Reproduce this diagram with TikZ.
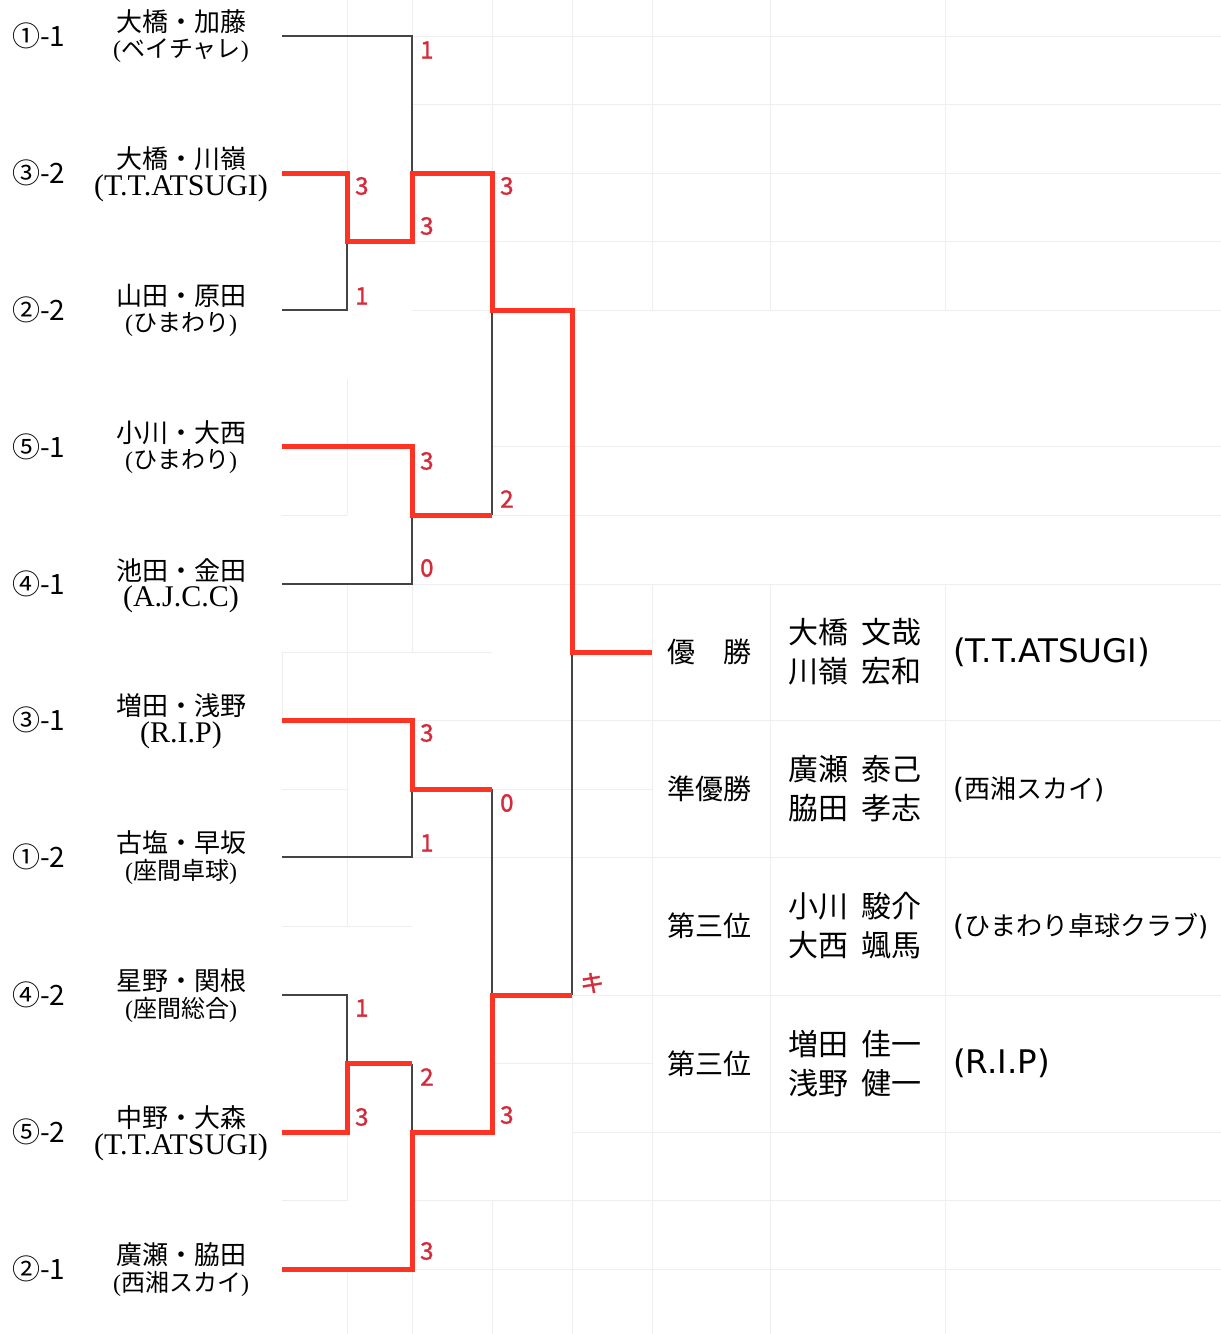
\documentclass[tikz,border=0pt]{standalone}
\usepackage{fontspec}
\setmainfont{Noto Sans CJK JP}
\newfontfamily\lserif{Liberation Serif}
\newfontfamily\dvsans{DejaVu Sans}
\newfontfamily\scorefont{Noto Sans CJK JP}[FakeBold=1.5]
\usepackage{tikz}
\usetikzlibrary{positioning}
\definecolor{Win_Red}{HTML}{FF3324}
\definecolor{Score_Red}{HTML}{D42A3A}
\definecolor{Lose_Gray}{HTML}{444444}
\definecolor{Grid_Gray}{HTML}{EEEEEE}
\newcommand{\lteam}[1]{{\lserif(}#1{\lserif)}}
\newcommand{\lteamL}[1]{{\lserif\fontsize{30}{30}\selectfont(#1)}}
\newcommand{\rteam}[1]{{\dvsans(}#1{\dvsans)}}
\newcommand{\rteamL}[1]{{\dvsans\fontsize{32.5}{32.5}\selectfont(#1)}}
\newcommand{\cjksmall}{\fontsize{26}{26}\selectfont}
\newcommand{\gap}{\hspace{0.45em}}

\begin{document}
\begin{tikzpicture}[x=1pt, y=-1pt, line join=miter,
    lose/.style={draw=Lose_Gray, line width=1.6pt},
    win/.style={draw=Win_Red, line width=5pt},
    grid line/.style={draw=Grid_Gray, line width=1pt},
    score/.style={text=Score_Red, anchor=west, inner sep=0pt, font=\scorefont\fontsize{24}{24}\selectfont},
    seed/.style={anchor=west, inner sep=0pt, font=\fontsize{28}{28}\selectfont},
    pname/.style={inner sep=0pt, font=\fontsize{26}{26}\selectfont},
    pteam/.style={inner sep=0pt, font=\fontsize{24}{24}\selectfont},
    rank/.style={anchor=west, inner sep=0pt, font=\fontsize{28}{28}\selectfont},
    member/.style={anchor=west, inner sep=0pt, align=left, font=\fontsize{30}{39}\selectfont},
    club/.style={anchor=west, inner sep=0pt, font=\fontsize{28}{28}\selectfont}]
    \useasboundingbox (0,0) rectangle (1221,1334);

    % Sheet grid
    \foreach \y in {36, 104.5, 173, 241.5, 310}
        \draw[grid line] (412,\y) -- (1221,\y);
    \foreach \y in {446.5, 515}
        \draw[grid line] (492,\y) -- (1221,\y);
    \foreach \y in {584, 720, 857}
        \draw[grid line] (412,\y) -- (1221,\y);
    \foreach \y in {995, 1132}
        \draw[grid line] (572,\y) -- (1221,\y);
    \draw[grid line] (412,1200.5) -- (1221,1200.5);
    \draw[grid line] (412,1269) -- (1221,1269);
    \draw[grid line] (282,1200.5) -- (347,1200.5);
    \draw[grid line] (492,1063.5) -- (652,1063.5);
    \draw[grid line] (282,515) -- (347,515);
    \draw[grid line] (282,652) -- (492,652);
    \draw[grid line] (282,789) -- (347,789);
    \draw[grid line] (492,789) -- (652,789);
    \draw[grid line] (282,926) -- (412,926);
    \foreach \x in {492, 572, 652, 770, 945}
        \draw[grid line] (\x,0) -- (\x,310);
    \foreach \x in {652, 770, 945}
        \draw[grid line] (\x,584) -- (\x,1334);
    \draw[grid line] (347,0) -- (347,173);
    \draw[grid line] (412,0) -- (412,36);
    \draw[grid line] (347,378.5) -- (347,515);
    \draw[grid line] (347,584) -- (347,926);
    \draw[grid line] (412,584) -- (412,652);
    \draw[grid line] (282,652) -- (282,720);
    \draw[grid line] (347,1063.5) -- (347,1200.5);
    \foreach \x in {347, 412}
        \draw[grid line] (\x,1269) -- (\x,1334);
    \draw[grid line] (492,1200.5) -- (492,1334);
    \draw[grid line] (572,995) -- (572,1334);

    % Entries
    \foreach \i/\y/\sd/\nm/\tm in {
        1/36/①-1/大橋・加藤/\lteam{ベイチャレ},
        2/173/③-2/大橋・川嶺/\lteamL{T.T.ATSUGI},
        3/310/②-2/山田・原田/\lteam{ひまわり},
        4/446.5/⑤-1/小川・大西/\lteam{ひまわり},
        5/584/④-1/池田・金田/\lteamL{A.J.C.C},
        6/720/③-1/増田・浅野/\lteamL{R.I.P},
        7/857/①-2/古塩・早坂/\lteam{座間卓球},
        8/995/④-2/星野・関根/\lteam{座間総合},
        9/1132/⑤-2/中野・大森/\lteamL{T.T.ATSUGI},
        10/1269/②-1/廣瀬・脇田/\lteam{西湘スカイ}} {
        \coordinate (p\i) at (282,\y);
        \node[seed] (seed\i) at (12,\y) {\sd};
        \node[pname] (name\i) at (181,\y-14) {\nm};
        \node[pteam] (team\i) at (181,\y+15) {\tm};
    }

    % Match points
    \coordinate (m1) at (347,241.5);
    \coordinate (m2) at (412,173);
    \coordinate (m3) at (412,515);
    \coordinate (m4) at (492,310);
    \coordinate (m5) at (412,789);
    \coordinate (m6) at (347,1063.5);
    \coordinate (m7) at (412,1132);
    \coordinate (m8) at (492,995);
    \coordinate (mf) at (572,652);
    \coordinate (champ) at (652,652);

    % Losing lines
    \draw[lose] (p3) -| (m1);
    \draw[lose] (p1) -| (m2);
    \draw[lose] (p5) -| (m3);
    \draw[lose] (m3 -| m4) -- (m4);
    \draw[lose] (p7) -| (m5);
    \draw[lose] (m5 -| m8) -- (m8);
    \draw[lose] (p8) -| (m6);
    \draw[lose] (m6 -| m7) -- (m7);
    \draw[lose] (m8 -| mf) -- (mf);

    % Winning lines
    \draw[win] (p2) -| (m1) -| (m2) -| (m4) -| (mf) -- (champ);
    \draw[win] (p4) -| (m3) -- (m3 -| m4);
    \draw[win] (p6) -| (m5) -- (m5 -| m8);
    \draw[win] (p9) -| (m6) -- (m6 -| m7);
    \draw[win] (p10) -| (m7) -| (m8) -- (m8 -| mf);

    % Scores
    \foreach \nm/\x/\y/\s in {s1a/355/186/3, s1b/355/296/1, s2a/420/50/1, s2b/420/226/3,
        s3a/420/461/3, s3b/420/568/0, s4a/500/186/3, s4b/500/499/2,
        s5a/420/733/3, s5b/420/843/1, s6a/355/1008/1, s6b/355/1117/3,
        s7a/420/1077/2, s7b/420/1251/3, s8a/500/803/0, s8b/500/1115/3, sfb/580/983/キ}
        \node[score] (\nm) at (\x,\y) {\s};

    % Results
    \node[rank] (rank1) at (667,652) {優　勝};
    \node[member] (mem1) at (788,652) {大橋\gap 文哉\\川嶺\gap 宏和};
    \node[club] (club1) at (953,652) {\rteamL{T.T.ATSUGI}};
    \node[rank] (rank2) at (667,789) {準優勝};
    \node[member] (mem2) at (788,789) {廣瀬\gap 泰己\\脇田\gap 孝志};
    \node[club] (club2) at (953,789) {\rteam{\cjksmall 西湘スカイ}};
    \node[rank] (rank3) at (667,926) {第三位};
    \node[member] (mem3) at (788,926) {小川\gap 駿介\\大西\gap 颯馬};
    \node[club] (club3) at (953,926) {\rteam{\cjksmall ひまわり卓球クラブ}};
    \node[rank] (rank4) at (667,1063.5) {第三位};
    \node[member] (mem4) at (788,1063.5) {増田\gap 佳一\\浅野\gap 健一};
    \node[club] (club4) at (953,1063.5) {\rteamL{R.I.P}};
\end{tikzpicture}
\end{document}
